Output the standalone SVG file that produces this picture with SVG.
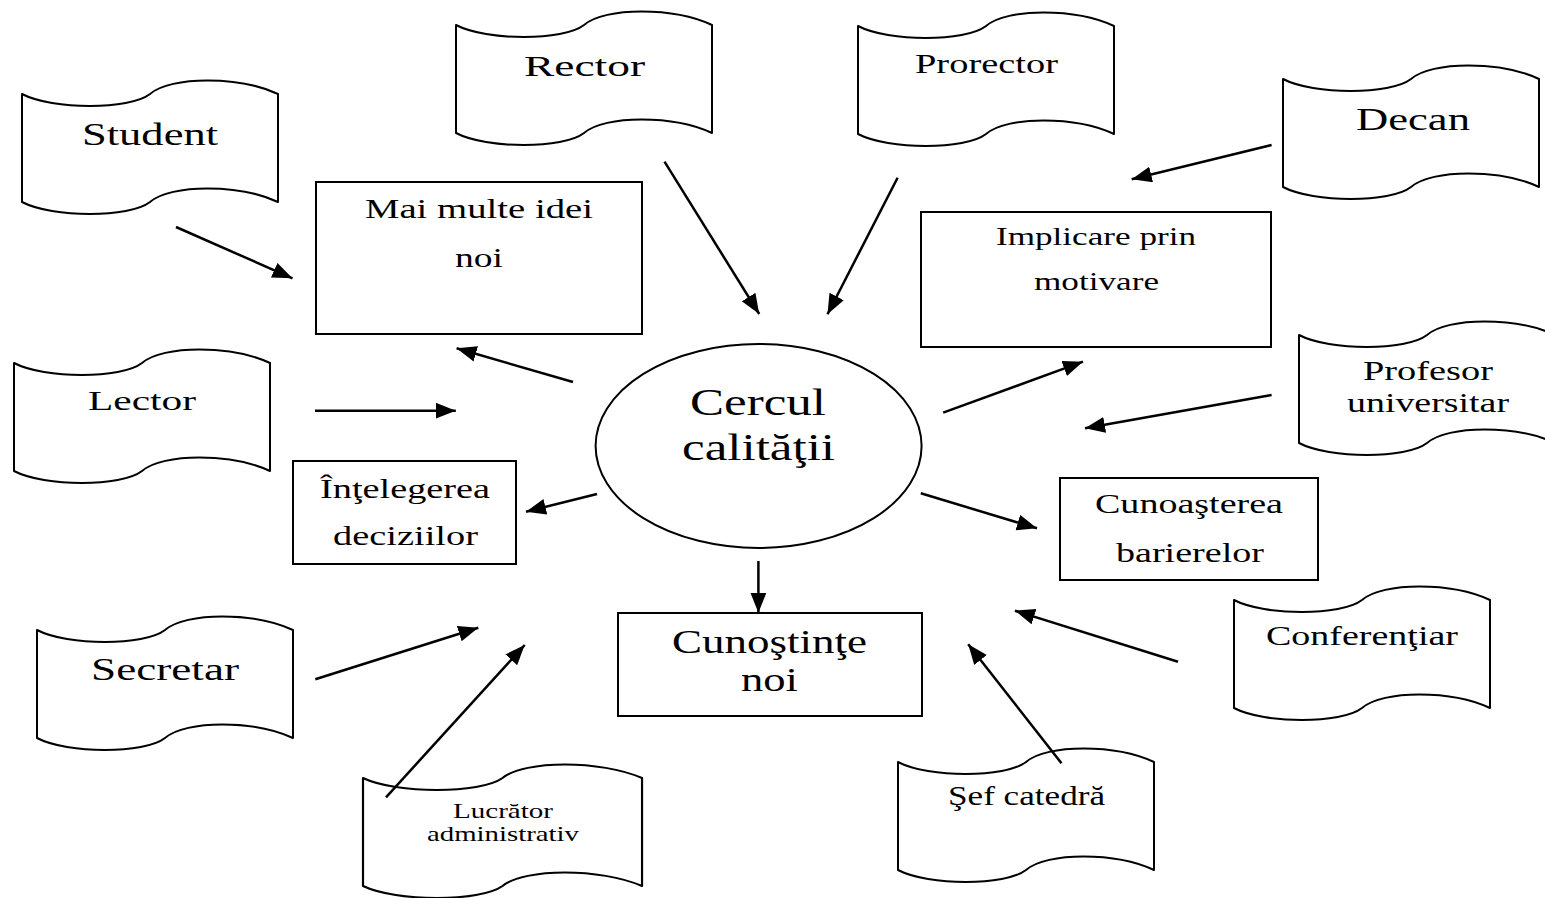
<svg xmlns="http://www.w3.org/2000/svg" xmlns:xlink="http://www.w3.org/1999/xlink" width="1545" height="898" viewBox="0 0 1545 898">
<style>
.tape{fill:#fff;stroke:#000;stroke-width:2;stroke-linejoin:round}
.box{fill:#fff;stroke:#000;stroke-width:2}
.t{font-family:"Liberation Serif","Times New Roman",serif;fill:#000}
.arr{stroke:#000;stroke-width:2.5;fill:none;marker-end:url(#ah)}
</style>
<defs>
<marker id="ah" markerUnits="userSpaceOnUse" markerWidth="22" markerHeight="18" refX="20" refY="8" orient="auto">
<path d="M0,0 L20,8 L0,16 Z" fill="#000"/>
</marker>
<path id="tp" d="M0,0 C30.7,16 107.5,16 128,0 C148.5,-18 217.6,-18 256,0 L256,108 C217.6,90 148.5,90 128,108 C107.5,124 30.7,124 0,108 Z"/>
</defs>
<rect width="1545" height="898" fill="#fff"/>

<g id="student"><use xlink:href="#tp" class="tape" transform="translate(22,94)"/><text class="t" x="82" y="145" font-size="32" textLength="136" lengthAdjust="spacingAndGlyphs">Student</text></g>
<g id="rector"><use xlink:href="#tp" class="tape" transform="translate(456,25)"/><text class="t" x="524" y="76" font-size="30" textLength="121" lengthAdjust="spacingAndGlyphs">Rector</text></g>
<g id="prorector"><use xlink:href="#tp" class="tape" transform="translate(858,26)"/><text class="t" x="915" y="73" font-size="27" textLength="143" lengthAdjust="spacingAndGlyphs">Prorector</text></g>
<g id="decan"><use xlink:href="#tp" class="tape" transform="translate(1283,79)"/><text class="t" x="1356" y="130" font-size="32" textLength="114" lengthAdjust="spacingAndGlyphs">Decan</text></g>
<g id="lector"><use xlink:href="#tp" class="tape" transform="translate(14,363)"/><text class="t" x="88" y="410" font-size="28" textLength="108" lengthAdjust="spacingAndGlyphs">Lector</text></g>
<g id="profesor"><use xlink:href="#tp" class="tape" transform="translate(1299,335)"/><text class="t" x="1363" y="380" font-size="27" textLength="130" lengthAdjust="spacingAndGlyphs">Profesor</text><text class="t" x="1347" y="412" font-size="27" textLength="162" lengthAdjust="spacingAndGlyphs">universitar</text></g>
<g id="secretar"><use xlink:href="#tp" class="tape" transform="translate(37,630)"/><text class="t" x="91" y="680" font-size="32" textLength="148" lengthAdjust="spacingAndGlyphs">Secretar</text></g>
<g id="conferentiar"><use xlink:href="#tp" class="tape" transform="translate(1234,600)"/><text class="t" x="1266" y="645" font-size="28" textLength="192" lengthAdjust="spacingAndGlyphs">Conferenţiar</text></g>
<g id="lucrator"><use xlink:href="#tp" class="tape" transform="translate(363,778) scale(1.09,1)" style="vector-effect:non-scaling-stroke"/><text class="t" x="453" y="818" font-size="21" textLength="100" lengthAdjust="spacingAndGlyphs">Lucrător</text><text class="t" x="427" y="841" font-size="21" textLength="152" lengthAdjust="spacingAndGlyphs">administrativ</text></g>
<g id="sef"><use xlink:href="#tp" class="tape" transform="translate(898,762)"/><text class="t" x="948" y="805" font-size="28" textLength="157" lengthAdjust="spacingAndGlyphs">Şef catedră</text></g>

<g id="mai"><rect class="box" x="316" y="182" width="326" height="152"/><text class="t" x="365" y="218" font-size="27" textLength="228" lengthAdjust="spacingAndGlyphs">Mai multe idei</text><text class="t" x="455" y="267" font-size="27" textLength="48" lengthAdjust="spacingAndGlyphs">noi</text></g>
<g id="implicare"><rect class="box" x="921" y="212" width="350" height="135"/><text class="t" x="996" y="245" font-size="25" textLength="200" lengthAdjust="spacingAndGlyphs">Implicare prin</text><text class="t" x="1034" y="290" font-size="25" textLength="125" lengthAdjust="spacingAndGlyphs">motivare</text></g>
<g id="intelegerea"><rect class="box" x="293" y="461" width="223" height="103"/><text class="t" x="320" y="498" font-size="27" textLength="170" lengthAdjust="spacingAndGlyphs">Înţelegerea</text><text class="t" x="333" y="545" font-size="27" textLength="145" lengthAdjust="spacingAndGlyphs">deciziilor</text></g>
<g id="cunoasterea"><rect class="box" x="1060" y="478" width="258" height="102"/><text class="t" x="1095" y="513" font-size="27" textLength="188" lengthAdjust="spacingAndGlyphs">Cunoaşterea</text><text class="t" x="1116" y="562" font-size="27" textLength="148" lengthAdjust="spacingAndGlyphs">barierelor</text></g>
<g id="cunostinte"><rect class="box" x="618" y="613" width="304" height="103"/><text class="t" x="672" y="653" font-size="34" textLength="195" lengthAdjust="spacingAndGlyphs">Cunoştinţe</text><text class="t" x="741" y="691" font-size="34" textLength="57" lengthAdjust="spacingAndGlyphs">noi</text></g>
<g id="cercul"><ellipse class="box" cx="758.6" cy="446" rx="163" ry="102"/><text class="t" x="690" y="415" font-size="37" textLength="136" lengthAdjust="spacingAndGlyphs">Cercul</text><text class="t" x="682" y="460" font-size="37" textLength="153" lengthAdjust="spacingAndGlyphs">calităţii</text></g>

<g id="connectors">
<line class="arr" x1="176" y1="227" x2="292.5" y2="278.3"/>
<line class="arr" x1="573" y1="382" x2="456.6" y2="348.3"/>
<line class="arr" x1="315" y1="410.7" x2="455.8" y2="410.7"/>
<line class="arr" x1="597" y1="494" x2="526" y2="511.7"/>
<line class="arr" x1="664.5" y1="161.7" x2="759.2" y2="314"/>
<line class="arr" x1="897.6" y1="177.7" x2="827.5" y2="314.3"/>
<line class="arr" x1="1271.6" y1="145" x2="1131.7" y2="179.3"/>
<line class="arr" x1="943.2" y1="412.7" x2="1083" y2="361.7"/>
<line class="arr" x1="1271.6" y1="395" x2="1085" y2="428.3"/>
<line class="arr" x1="920.8" y1="493.3" x2="1037" y2="528.3"/>
<line class="arr" x1="758.4" y1="561" x2="758.4" y2="612.7"/>
<line class="arr" x1="1178" y1="661.7" x2="1014.9" y2="610.7"/>
<line class="arr" x1="1061.5" y1="763.3" x2="968.2" y2="644.3"/>
<line class="arr" x1="315.3" y1="679.3" x2="478.3" y2="627.7"/>
<line class="arr" x1="386" y1="797.3" x2="524.7" y2="645"/>
</g>
</svg>
